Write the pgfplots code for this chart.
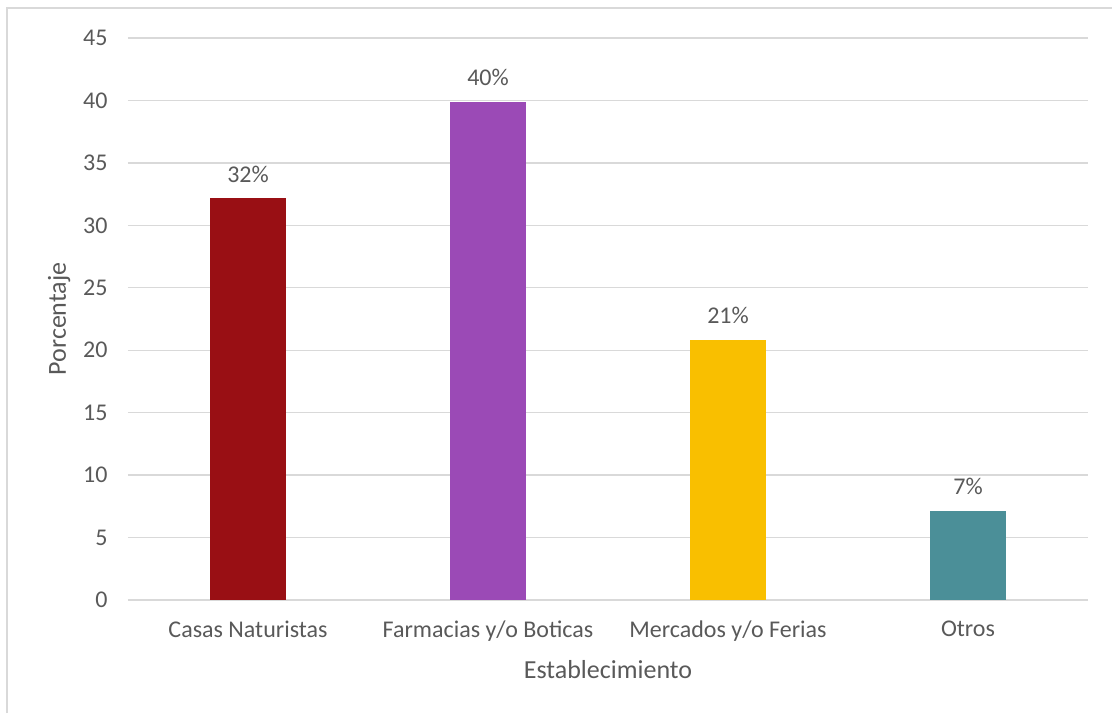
\documentclass[border=0pt]{standalone}
\usepackage{pgfplots}
\pgfplotsset{compat=1.18}
\usepackage{fontspec}
\setmainfont{Carlito}
\definecolor{txt}{HTML}{595959}
\definecolor{gridc}{HTML}{D9D9D9}
\definecolor{c1}{HTML}{990F14}
\definecolor{c2}{HTML}{9B4AB6}
\definecolor{c3}{HTML}{F9BF00}
\definecolor{c4}{HTML}{4B8F98}
\begin{document}
\begin{tikzpicture}[x=1pt,y=1pt]
\path[use as bounding box] (0,0) rectangle (1112,713);
\draw[gridc, line width=1.3pt] (7,0) -- (7,705) -- (1112,705);
\begin{axis}[
  at={(128pt,113pt)}, anchor=south west,
  scale only axis, width=960pt, height=562pt,
  ybar, bar width=76pt,
  xmin=-0.5, xmax=3.5, ymin=0, ymax=45,
  ytick={0,5,...,45},
  xtick={0,1,2,3},
  xticklabels={Casas Naturistas, Farmacias y/o Boticas, Mercados y/o Ferias, Otros},
  axis line style={draw=none},
  major tick length=0pt,
  ymajorgrids, grid style={gridc, line width=1.3pt},
  /pgf/number format/assume math mode=true,
  tick label style={font=\fontsize{24}{28}\selectfont, text=txt},
  yticklabel style={xshift=-17pt},
  xticklabel style={yshift=-17pt},
  xlabel={Establecimiento}, ylabel={Porcentaje},
  label style={font=\fontsize{26}{30}\selectfont, text=txt},
  xlabel style={yshift=-13pt},
  ylabel style={yshift=6pt},
  nodes near coords={\pgfmathprintnumber[precision=0,fixed]{\pgfplotspointmeta}\%},
  every node near coord/.append style={font=\fontsize{24}{28}\selectfont, text=txt, yshift=12pt},
]
\addplot[fill=c1, draw=none, bar shift=0pt] coordinates {(0,32.2)};
\addplot[fill=c2, draw=none, bar shift=0pt] coordinates {(1,39.9)};
\addplot[fill=c3, draw=none, bar shift=0pt] coordinates {(2,20.85)};
\addplot[fill=c4, draw=none, bar shift=0pt] coordinates {(3,7.15)};
\end{axis}
\end{tikzpicture}
\end{document}
